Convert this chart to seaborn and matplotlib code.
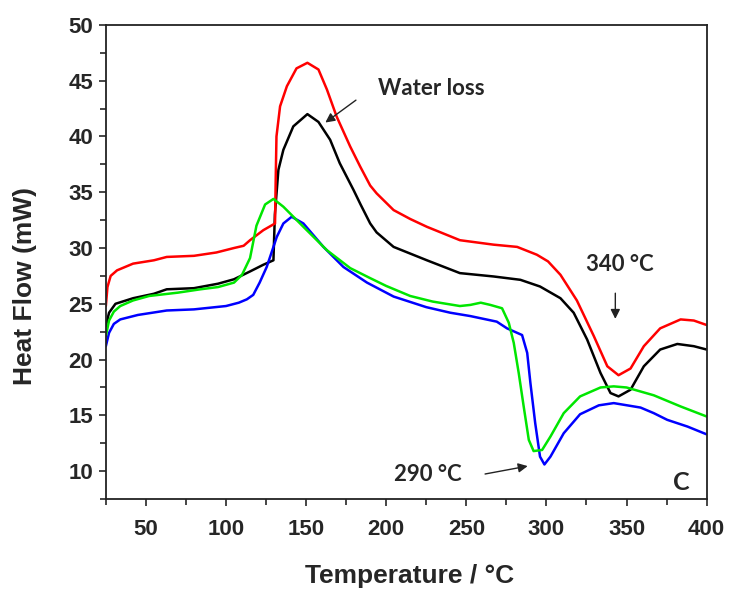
import numpy as np
import pandas as pd
import matplotlib
matplotlib.use("Agg")
import matplotlib.pyplot as plt
import seaborn as sns
from matplotlib.ticker import MultipleLocator

# DSC curves
red_x = [25, 26, 28, 32, 42, 55, 63, 80, 94, 105, 111, 115, 123.3, 130.6, 131, 131.5, 133.75, 138, 144,
         150.8, 157.7, 163, 169, 177.5, 183.75, 190, 194, 204.6, 215, 225.4, 246, 267, 281.7, 294, 301,
         308.75, 319, 329.6, 338, 345, 352.5, 360.8, 371, 383.75, 392, 400]
red_y = [24.8, 26.5, 27.5, 28.0, 28.6, 28.9, 29.2, 29.3, 29.6, 30.0, 30.2, 30.7, 31.6, 32.2, 36.0, 40.0,
         42.7, 44.5, 46.1, 46.6, 46.0, 44.2, 41.8, 39.1, 37.3, 35.6, 34.9, 33.4, 32.6, 31.9, 30.7, 30.3,
         30.1, 29.4, 28.8, 27.6, 25.3, 22.1, 19.4, 18.6, 19.2, 21.2, 22.8, 23.6, 23.5, 23.1]

black_x = [25, 27, 31, 42, 55, 63, 80, 95, 105, 115, 123.3, 129.6, 130.5, 132.7, 135.8, 142, 150.8,
           157.7, 165, 171, 179.6, 184, 190, 194, 204.6, 225.4, 246, 267, 283.75, 296, 308.75, 317,
           325.4, 333.75, 340, 345, 352.5, 360.8, 371, 381.7, 392, 400]
black_y = [23.0, 24.2, 25.0, 25.5, 25.9, 26.3, 26.4, 26.8, 27.2, 27.9, 28.5, 28.9, 33.0, 37.0, 38.8,
           40.9, 42.0, 41.3, 39.7, 37.6, 35.2, 33.9, 32.2, 31.4, 30.1, 28.9, 27.75, 27.45, 27.15, 26.55,
           25.5, 24.2, 21.8, 18.8, 17.0, 16.7, 17.3, 19.4, 20.9, 21.4, 21.2, 20.9]

green_x = [25, 27, 30, 34, 42, 52, 70, 84, 95, 105, 110, 115, 119, 124.4, 129.6, 135.8, 148.3, 163,
           177.5, 190, 200, 215, 229, 246, 252.5, 259, 265, 272.3, 276.5, 279.6, 282.7, 285.8, 289,
           292, 297.3, 302.5, 310.8, 321, 333.75, 342, 350, 367, 383.75, 400]
green_y = [22.1, 23.5, 24.3, 24.8, 25.3, 25.7, 26.0, 26.3, 26.5, 26.9, 27.6, 29.1, 32.0, 33.9, 34.4,
           33.7, 31.9, 29.8, 28.2, 27.3, 26.6, 25.7, 25.2, 24.8, 24.9, 25.1, 24.9, 24.6, 23.3, 21.5,
           18.8, 15.8, 12.8, 11.8, 11.9, 13.1, 15.2, 16.7, 17.5, 17.6, 17.5, 16.8, 15.8, 14.9]

blue_x = [25, 27, 30, 34, 45, 63, 80, 100, 108, 113, 117, 121, 125.4, 131.7, 135.8, 141, 148.3, 160.8,
          173.3, 188, 204.6, 225, 240, 252.5, 269, 275.4, 284.8, 288, 290, 293, 296, 298.75, 302.5,
          310.8, 321, 332.7, 342, 358.75, 367, 375.4, 388, 400]
blue_y = [21.2, 22.4, 23.2, 23.6, 24.0, 24.4, 24.5, 24.8, 25.1, 25.4, 25.8, 26.9, 28.3, 31.0, 32.2,
          32.8, 32.2, 30.1, 28.3, 26.9, 25.65, 24.7, 24.2, 23.9, 23.4, 22.8, 22.2, 20.6, 17.9, 14.3,
          11.3, 10.6, 11.3, 13.4, 15.1, 15.9, 16.1, 15.7, 15.2, 14.6, 14.0, 13.3]

curves = {"black": (black_x, black_y), "red": (red_x, red_y),
          "blue": (blue_x, blue_y), "green": (green_x, green_y)}
colors = {"black": "#000000", "red": "#ff0000", "blue": "#0000ff", "green": "#00e600"}

frames = []
for name, (xs, ys) in curves.items():
    frames.append(pd.DataFrame({"T": xs, "HF": ys, "curve": name}))
df = pd.concat(frames, ignore_index=True)

sns.set_style("ticks")
plt.rcParams['font.family'] = ['Liberation Sans', 'DejaVu Sans']

fig = plt.figure(figsize=(7.3, 5.92), dpi=100)
ax = fig.add_axes([0.145, 0.157, 0.823, 0.801])

sns.lineplot(data=df, x="T", y="HF", hue="curve", palette=colors, sort=False,
             estimator=None, legend=False, linewidth=1.8, ax=ax)

ax.set_xlim(25, 400)
ax.set_ylim(7.5, 50)
ax.set_xticks([50, 100, 150, 200, 250, 300, 350, 400])
ax.set_yticks([10, 15, 20, 25, 30, 35, 40, 45, 50])
ax.xaxis.set_minor_locator(MultipleLocator(25))
ax.yaxis.set_minor_locator(MultipleLocator(2.5))
ax.tick_params(which="major", direction="out", length=5, width=1.2, labelsize=16)
ax.tick_params(which="minor", direction="out", length=4, width=1.2)
ax.tick_params(axis="x", pad=9)
ax.tick_params(axis="y", pad=4)
for lab in ax.get_xticklabels() + ax.get_yticklabels():
    lab.set_fontweight("bold")
for sp in ax.spines.values():
    sp.set_linewidth(1.3)
    sp.set_color("#222222")

ax.set_xlabel("Temperature / °C", fontsize=19, fontweight="bold", va="center")
ax.set_ylabel("Heat Flow (mW)", fontsize=19, fontweight="bold", va="center")
ax.xaxis.set_label_coords(0.506, -0.162)
ax.yaxis.set_label_coords(-0.135, 0.45)

afont = ['Lato', 'DejaVu Sans']
ax.text(195, 44.3, "Water loss", fontsize=16, fontweight="bold", family=afont, va="center", ha="left")
ax.annotate("", xy=(160.6, 41.1), xytext=(182.5, 43.4),
            arrowprops=dict(arrowstyle="-|>", color="#222222", lw=1, mutation_scale=14))
ax.text(346, 28.5, "340 °C", fontsize=16, fontweight="bold", family=afont, va="center", ha="center")
ax.annotate("", xy=(343, 23.4), xytext=(343, 26.2),
            arrowprops=dict(arrowstyle="-|>", color="#222222", lw=1, mutation_scale=14))
ax.text(226, 9.7, "290 °C", fontsize=16, fontweight="bold", family=afont, va="center", ha="center")
ax.annotate("", xy=(290, 10.5), xytext=(260, 9.7),
            arrowprops=dict(arrowstyle="-|>", color="#222222", lw=1, mutation_scale=14))
ax.text(384, 9.0, "C", fontsize=18, fontweight="bold", family=afont, va="center", ha="center")

fig.savefig("out.png", dpi=100)
